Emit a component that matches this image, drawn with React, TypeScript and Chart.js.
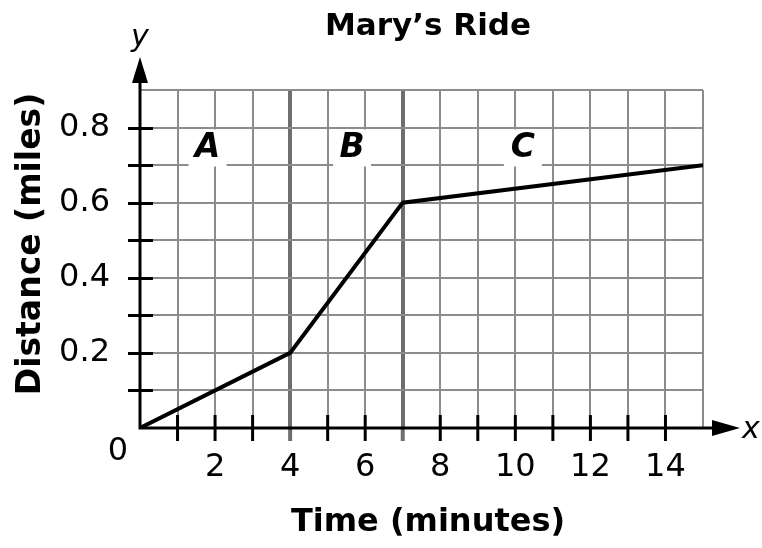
import { useEffect, useRef } from "react";
import { Chart, registerables } from "chart.js";

Chart.register(...registerables);

const chartTitle = "Mary’s Ride";
const xAxisTitle = "Time (minutes)";
const yAxisTitle = "Distance (miles)";

const timeMinutes = [0, 4, 7, 15];
const distanceMiles = [0, 0.2, 0.6, 0.7];

const xMin = 0;
const xMax = 15;
const yMin = 0;
const yMax = 0.9;
const xLabeledTicks = [2, 4, 6, 8, 10, 12, 14];
const yLabeledTicks = [0.2, 0.4, 0.6, 0.8];
const segmentDividers = [4, 7];

const sectionLabels = ["A", "B", "C"];
const sectionLabelX = [1.8, 5.65, 10.2];
const sectionLabelY = [0.747, 0.747, 0.747];

const FONT = '"DejaVu Sans", Verdana, sans-serif';

const decorPlugin = {
  id: "decor",
  afterDatasetsDraw(chart: any) {
    const { ctx, chartArea: ca, scales } = chart;
    const xs = scales.x;
    const ys = scales.y;
    const x0 = xs.getPixelForValue(xMin);
    const y0 = ys.getPixelForValue(yMin);
    ctx.save();

    // section label boxes and letters
    sectionLabels.forEach((t, i) => {
      const px = xs.getPixelForValue(sectionLabelX[i]);
      const py = ys.getPixelForValue(sectionLabelY[i]);
      ctx.fillStyle = "#fff";
      ctx.fillRect(px - 19, py - 18, 38, 37);
      ctx.fillStyle = "#000";
      ctx.font = `italic bold 33px ${FONT}`;
      ctx.textAlign = "center";
      ctx.textBaseline = "middle";
      ctx.fillText(t, px, py + 1);
    });

    // x ticks
    xs.ticks.forEach((t: any) => {
      if (t.value <= xMin || t.value >= xMax) return;
      const px = xs.getPixelForValue(t.value);
      ctx.beginPath();
      if (segmentDividers.includes(t.value)) {
        ctx.strokeStyle = "#6e6e6e";
        ctx.lineWidth = 4;
        ctx.moveTo(px, y0);
        ctx.lineTo(px, y0 + 13);
      } else {
        ctx.strokeStyle = "#000";
        ctx.lineWidth = 3;
        ctx.moveTo(px, y0 - 13);
        ctx.lineTo(px, y0 + 13);
      }
      ctx.stroke();
    });

    // y ticks
    ys.ticks.forEach((t: any) => {
      if (t.value <= yMin + 1e-9 || t.value >= yMax - 1e-9) return;
      const py = Math.round(ys.getPixelForValue(t.value)) + 0.5;
      ctx.beginPath();
      ctx.strokeStyle = "#000";
      ctx.lineWidth = 3;
      ctx.moveTo(x0 - 12, py);
      ctx.lineTo(x0 + 13, py);
      ctx.stroke();
    });

    // axes
    ctx.strokeStyle = "#000";
    ctx.lineWidth = 3;
    ctx.beginPath();
    ctx.moveTo(x0, y0);
    ctx.lineTo(x0, ca.top - 8);
    ctx.moveTo(x0 - 1.5, y0);
    ctx.lineTo(ca.right + 10, y0);
    ctx.stroke();

    // arrows
    ctx.fillStyle = "#000";
    ctx.beginPath();
    ctx.moveTo(x0, ca.top - 33);
    ctx.lineTo(x0 - 8, ca.top - 7);
    ctx.lineTo(x0 + 8, ca.top - 7);
    ctx.closePath();
    ctx.fill();
    ctx.beginPath();
    ctx.moveTo(ca.right + 37, y0);
    ctx.lineTo(ca.right + 9, y0 - 8);
    ctx.lineTo(ca.right + 9, y0 + 8);
    ctx.closePath();
    ctx.fill();

    // axis letters and origin
    ctx.fillStyle = "#000";
    ctx.font = `italic 30px ${FONT}`;
    ctx.textAlign = "center";
    ctx.textBaseline = "alphabetic";
    ctx.fillText("y", x0, ca.top - 44);
    ctx.fillText("x", ca.right + 48, y0 + 10);
    ctx.font = `32px ${FONT}`;
    ctx.textBaseline = "middle";
    ctx.fillText("0", x0 - 22, y0 + 24);

    // titles
    ctx.font = `bold 31px ${FONT}`;
    ctx.textBaseline = "middle";
    ctx.fillText(chartTitle, 428, 27);
    ctx.font = `bold 32px ${FONT}`;
    ctx.fillText(xAxisTitle, 428, 523);
    ctx.save();
    ctx.translate(31, 244);
    ctx.rotate(-Math.PI / 2);
    ctx.font = `bold 33px ${FONT}`;
    ctx.fillText(yAxisTitle, 0, 0);
    ctx.restore();

    ctx.restore();
  },
};

export default function App() {
  const ref = useRef<HTMLCanvasElement>(null);
  useEffect(() => {
    if (!ref.current) return;
    Chart.defaults.font.family = FONT;
    const chart = new Chart(ref.current, {
      type: "line",
      data: {
        datasets: [
          {
            data: timeMinutes.map((t, i) => ({ x: t, y: distanceMiles[i] })),
            borderColor: "#000",
            borderWidth: 4,
            pointRadius: 0,
            tension: 0,
            fill: false,
          },
        ],
      },
      options: {
        responsive: false,
        animation: false,
        devicePixelRatio: 1,
        layout: { padding: { top: 90, right: 59, left: 0, bottom: 0 } },
        plugins: {
          legend: { display: false },
          title: { display: false },
          tooltip: { enabled: false },
        },
        scales: {
          x: {
            type: "linear",
            min: xMin,
            max: xMax,
            border: { display: false },
            grid: {
              drawTicks: false,
              color: (c: any) =>
                segmentDividers.includes(c.tick?.value) ? "#6e6e6e" : "#8c8c8c",
              lineWidth: (c: any) =>
                segmentDividers.includes(c.tick?.value) ? 4 : 2,
            },
            ticks: {
              stepSize: 1,
              autoSkip: false,
              maxRotation: 0,
              padding: 20,
              color: "#000",
              font: { size: 32, family: FONT },
              callback: (v: any) =>
                xLabeledTicks.includes(Number(v)) ? String(v) : "",
            },
            afterFit: (s: any) => {
              s.height = 120;
            },
          },
          y: {
            type: "linear",
            min: yMin,
            max: yMax,
            border: { display: false },
            grid: { drawTicks: false, color: "#8c8c8c", lineWidth: 2 },
            ticks: {
              stepSize: 0.1,
              autoSkip: false,
              padding: 30,
              color: "#000",
              font: { size: 32, family: FONT },
              callback: (v: any) => {
                const r = Math.round(Number(v) * 10) / 10;
                return yLabeledTicks.includes(r) ? r.toFixed(1) : "";
              },
            },
            afterFit: (s: any) => {
              s.width = 140;
            },
          },
        },
      },
      plugins: [decorPlugin],
    });
    return () => chart.destroy();
  }, []);
  return (
    <div style={{ position: "absolute", left: 0, top: 0, width: 762, height: 548, background: "#fff" }}>
      <canvas ref={ref} width={762} height={548} style={{ display: "block" }} />
    </div>
  );
}
